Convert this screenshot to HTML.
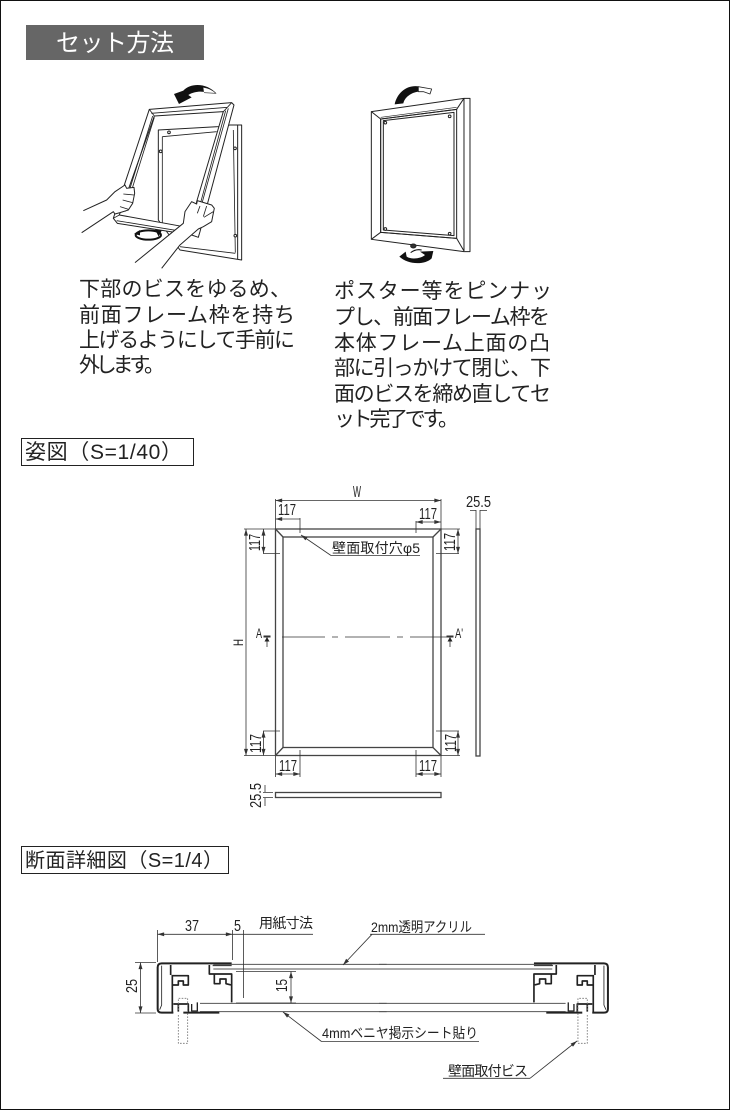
<!DOCTYPE html>
<html><head><meta charset="utf-8"><style>
html,body{margin:0;padding:0;background:#fff}
svg{display:block}
text{font-family:"Liberation Sans","Noto Sans CJK JP",sans-serif;fill:#222}
.d{font-size:16px}
.l{fill:none;stroke:#333;stroke-width:.8}
.b{font-size:21px;fill:#222}
</style></head><body>
<svg width="730" height="1110" viewBox="0 0 730 1110" xmlns="http://www.w3.org/2000/svg">
<defs>
<marker id="a" viewBox="0 0 10 6" refX="10" refY="3" markerWidth="7" markerHeight="4" markerUnits="userSpaceOnUse" orient="auto-start-reverse"><path d="M0 0L10 3L0 6z" fill="#333"/></marker>
<g id="prof" fill="none" stroke="#222" stroke-linejoin="round">
<path d="M335 175H125Q113 175 113 187V312Q113 323 125 323H160" stroke-width="6"/>
<path d="M125 182V300L119 314" stroke-width="2.5"/>
<path d="M152 180V210M157 210V325" stroke-width="5"/>
<path d="M155 212H205V240H190V228H175V240H155" stroke-width="5"/>
<path d="M268 180V207H335V292" stroke-width="5"/>
<path d="M283 207V236H300V222H318V236L333 240" stroke-width="5"/>
<path d="M160 297H205V322M175 297V320" stroke-width="5"/>
<path d="M190 323H298" stroke-width="6"/>
<path d="M215 297V318H232V292" stroke-width="4"/>
<path d="M278 182H335" stroke-width="3"/>
<path d="M175 315V280H203V415H175V330" stroke="#777" stroke-width="2.5" stroke-dasharray="5 4"/>
</g>
</defs>
<rect width="730" height="1110" fill="#fff"/>
<rect x=".5" y=".5" width="729" height="1109" fill="none" stroke="#111"/>

<rect x="26" y="25" width="178" height="35" fill="#666"/>
<text x="56" y="51" font-size="24" textLength="118" lengthAdjust="spacing" style="fill:#fff">セット方法</text>

<!-- left illustration -->
<g transform="translate(60,80) scale(.3333)" fill="#fff" stroke="#222" stroke-width="3" stroke-linejoin="round">
<path d="M295 150L475 140L510 135H545V540L360 510L295 420z"/>
<path d="M533 135V538" fill="none"/>
<path d="M307 170L470 155M307 170V440M520 150L526 518M360 500L526 520" fill="none" stroke-width="2.5"/>
<circle cx="327" cy="157" r="4"/><circle cx="302" cy="214" r="4"/><circle cx="525" cy="205" r="4"/><circle cx="526" cy="467" r="4"/>
<path fill-rule="evenodd" d="M268 88L515 68L522 75L420 455L415 472L395 465L172 430L160 415zM283 108L490 95L410 365L398 445L178 405z"/>
<path d="M268 88L283 108M515 68L490 95M160 415L178 405M274 100L503 82M188 395L278 108M195 395L283 112M505 85L412 420M497 92L405 430M170 422L390 458" fill="none" stroke-width="2.5"/>
<ellipse cx="265" cy="465" rx="38" ry="14" fill="#fff" stroke="#111" stroke-width="6"/>
<path d="M222 462L240 450V466zM305 452L285 448L296 470z" fill="#111" stroke="none"/>
<path d="M70 392L140 360L165 335L195 315L200 325L222 322L224 340L218 370L205 390L180 398L165 402L160 395L65 458" stroke-width="3"/>
<path d="M190 342L222 345M188 360L218 368M180 380L205 388" fill="none" stroke-width="2.5"/>
<path d="M225 548L370 430L375 395L395 365L410 372L412 362L455 375L463 385L455 425L430 440L415 447L360 495L305 565" stroke-width="3"/>
<path d="M420 378L412 400M440 378L430 410M460 395L432 412" fill="none" stroke-width="2.5"/>
<path d="M342 42L357 72L395 52L385 45C400 35 425 32 440 38L468 40C445 12 395 5 370 32z" fill="#111" stroke="none"/>
<path d="M430 22C445 24 458 30 468 40L432 38" fill="#fff" stroke-width="2"/>
</g>

<!-- right illustration -->
<g transform="translate(340,70) scale(.3333)" fill="#fff" stroke="#222" stroke-width="3" stroke-linejoin="round">
<path d="M94 125L372 85H390V545H372L94 508z"/>
<path d="M94 125L122 147L350 118L372 85M122 147V487L94 508M122 487L350 505L372 543M372 85V543" fill="none"/>
<path d="M130 152L342 127V497L130 480zM122 147L350 118V505L122 487z" fill="none" stroke-width="3"/>
<path d="M122 142L350 112" fill="none" stroke-width="2"/>
<circle cx="136" cy="158" r="4"/><circle cx="329" cy="139" r="4"/><circle cx="136" cy="477" r="4"/><circle cx="329" cy="491" r="4"/>
<ellipse cx="220" cy="528" rx="8" ry="6" fill="#333"/>
<path d="M164 103L190 100C195 80 215 68 235 65L240 50C205 42 172 65 164 103z" fill="#111" stroke="none"/>
<path d="M235 50L275 57L270 72L250 65L235 65z" fill="#fff" stroke-width="2.5"/>
<path d="M178 560L197 545L200 560C215 570 245 565 255 555L240 545L280 543L275 565C255 585 205 585 178 560z" fill="#111" stroke="none"/>
<path d="M212 548C222 540 235 538 245 540" fill="none" stroke="#111" stroke-width="3"/>
</g>

<g class="b">
<text class="b" x="79" y="296" textLength="212">下部のビスをゆるめ、</text>
<text class="b" x="79" y="322" textLength="216">前面フレーム枠を持ち</text>
<text class="b" x="79" y="347" textLength="216">上げるようにして手前に</text>
<text class="b" x="79" y="372" textLength="86">外します。</text>
<text class="b" x="334" y="298" textLength="218">ポスター等をピンナッ</text>
<text class="b" x="334" y="324" textLength="216">プし、前面フレーム枠を</text>
<text class="b" x="334" y="350" textLength="216">本体フレーム上面の凸</text>
<text class="b" x="334" y="375" textLength="217">部に引っかけて閉じ、下</text>
<text class="b" x="334" y="401" textLength="217">面のビスを締め直してセ</text>
<text class="b" x="334" y="426" textLength="125">ット完了です。</text>
</g>

<rect x="21.5" y="438.5" width="172" height="27" fill="#fff" stroke="#222"/>
<text x="25" y="459" font-size="21" textLength="157">姿図（S=1/40）</text>
<rect x="21.5" y="846.5" width="207" height="27" fill="#fff" stroke="#222"/>
<text x="25" y="867" font-size="20" textLength="198">断面詳細図（S=1/4）</text>

<!-- elevation -->
<g fill="none" stroke="#444" stroke-width="1.3">
<rect x="275.5" y="529" width="165.5" height="226.5"/>
<rect x="283" y="537" width="150" height="210.5"/>
<path d="M275.5 529L283 537M441 529L433 537M275.5 755.5L283 747.5M441 755.5L433 747.5"/>
<rect x="476" y="529" width="4" height="227"/>
<rect x="275.5" y="792.5" width="165.5" height="5"/>
</g>
<g class="l">
<path d="M275.5 499V529M441 499V529M476 510V529M480 510V529"/>
<path d="M275.5 500.5H441" marker-start="url(#a)" marker-end="url(#a)"/>
<path d="M275.5 519H300" marker-start="url(#a)"/>
<path d="M300 518V533M416 521V533"/>
<path d="M416 522H441" marker-start="url(#a)" marker-end="url(#a)"/>
<path d="M470 510.5H476M480 510.5H487"/>
<path d="M244 529H275M244 755.5H275"/>
<path d="M246 529V755.5" marker-start="url(#a)" marker-end="url(#a)"/>
<path d="M263.5 529V553.5" marker-start="url(#a)" marker-end="url(#a)"/>
<path d="M263 553.5H280M436 553.5H459"/>
<path d="M458 529V553.5" marker-start="url(#a)" marker-end="url(#a)"/>
<path d="M441 529H460M441 755.5H460"/>
<path d="M263.5 731V755.5" marker-start="url(#a)" marker-end="url(#a)"/>
<path d="M263 731H280M436 731H459"/>
<path d="M458 731V755.5" marker-start="url(#a)" marker-end="url(#a)"/>
<path d="M275.5 756V777M300 750V777M416 750V777M441 756V777"/>
<path d="M275.5 774H300" marker-start="url(#a)" marker-end="url(#a)"/>
<path d="M416 774H441" marker-start="url(#a)" marker-end="url(#a)"/>
<path d="M263 792.5H273M263 797.5H273M265 785V792M265 798V806"/>
<path d="M331 555.5L301 535" marker-end="url(#a)"/>
<path d="M331 555.5H420"/>
<path d="M282 637H325M332 637H338M345 637H390M397 637H403M410 637H447"/>
<path d="M267 647V640M450 647V640"/>
<path d="M263.5 636.5H270.5M446.5 636.5H453.5" stroke-width="2"/>
</g>
<path d="M267 637L264.5 641.5H269.5zM450 637L447.5 641.5H452.5z" fill="#222"/>
<g class="d">
<text x="353" y="497" textLength="8" lengthAdjust="spacingAndGlyphs">W</text>
<text x="278" y="515" textLength="18" lengthAdjust="spacingAndGlyphs">117</text>
<text x="419" y="519" textLength="18" lengthAdjust="spacingAndGlyphs">117</text>
<text x="466" y="507" textLength="25" lengthAdjust="spacingAndGlyphs">25.5</text>
<text transform="translate(260,551) rotate(-90)" textLength="17" lengthAdjust="spacingAndGlyphs">117</text>
<text transform="translate(455,551) rotate(-90)" textLength="18" lengthAdjust="spacingAndGlyphs">117</text>
<text transform="translate(261,753) rotate(-90)" textLength="19" lengthAdjust="spacingAndGlyphs">117</text>
<text transform="translate(456,752) rotate(-90)" textLength="18" lengthAdjust="spacingAndGlyphs">117</text>
<text x="279" y="771" textLength="18" lengthAdjust="spacingAndGlyphs">117</text>
<text x="419" y="771" textLength="18" lengthAdjust="spacingAndGlyphs">117</text>
<text transform="translate(261,808) rotate(-90)" textLength="25" lengthAdjust="spacingAndGlyphs">25.5</text>
<text transform="translate(243,646) rotate(-90)" font-size="14" textLength="7" lengthAdjust="spacingAndGlyphs">H</text>
<text x="256" y="638" font-size="14" textLength="6" lengthAdjust="spacingAndGlyphs">A</text>
<text x="455" y="638" font-size="14" textLength="8" lengthAdjust="spacingAndGlyphs">A'</text>
<text x="332" y="553" font-size="14" textLength="88">壁面取付穴φ5</text>
</g>

<!-- section -->
<g transform="translate(120,905) scale(.3333)">
<path d="M280 178H800M280 192H800M240 295H800M240 320H800" stroke="#555" stroke-width="3" fill="none"/>
<use href="#prof"/>
</g>
<g transform="translate(645.6,905) scale(-.3333,.3333)">
<path d="M280 178H800M280 192H800M240 295H800M240 320H800" stroke="#555" stroke-width="3" fill="none"/>
<use href="#prof"/>
</g>
<g class="l">
<path d="M157.5 930V962M232.5 930V960M243.5 930V998"/>
<path d="M157.5 934.3H232.5" marker-start="url(#a)" marker-end="url(#a)"/>
<path d="M232.5 934.3H243.5H313"/>
<path d="M135 962.5H156M135 1013H156M236 971.5H296M236 1003H296"/>
<path d="M140.5 962.5V1013" marker-start="url(#a)" marker-end="url(#a)"/>
<path d="M291 971.5V1003" marker-start="url(#a)" marker-end="url(#a)"/>
<path d="M372 934.3L343 965" marker-end="url(#a)"/>
<path d="M370 934.3H485"/>
<path d="M321.5 1041.5L283 1012" marker-end="url(#a)"/>
<path d="M321.5 1041.5H479"/>
<path d="M530 1078.3L577 1041" marker-end="url(#a)"/>
<path d="M443 1078.3H530"/>
</g>
<g class="d">
<text x="185" y="931" textLength="14" lengthAdjust="spacingAndGlyphs">37</text>
<text x="234" y="931" textLength="7" lengthAdjust="spacingAndGlyphs">5</text>
<text x="259" y="928" font-size="14" textLength="54">用紙寸法</text>
<text x="371" y="932" font-size="14" textLength="101" lengthAdjust="spacingAndGlyphs">2mm透明アクリル</text>
<text x="322" y="1038" font-size="14" textLength="156" lengthAdjust="spacingAndGlyphs">4mmベニヤ掲示シート貼り</text>
<text x="448" y="1076" font-size="14" textLength="80">壁面取付ビス</text>
<text transform="translate(137,993) rotate(-90)" textLength="14" lengthAdjust="spacingAndGlyphs">25</text>
<text transform="translate(287,992) rotate(-90)" textLength="13" lengthAdjust="spacingAndGlyphs">15</text>
</g>
</svg>
</body></html>
